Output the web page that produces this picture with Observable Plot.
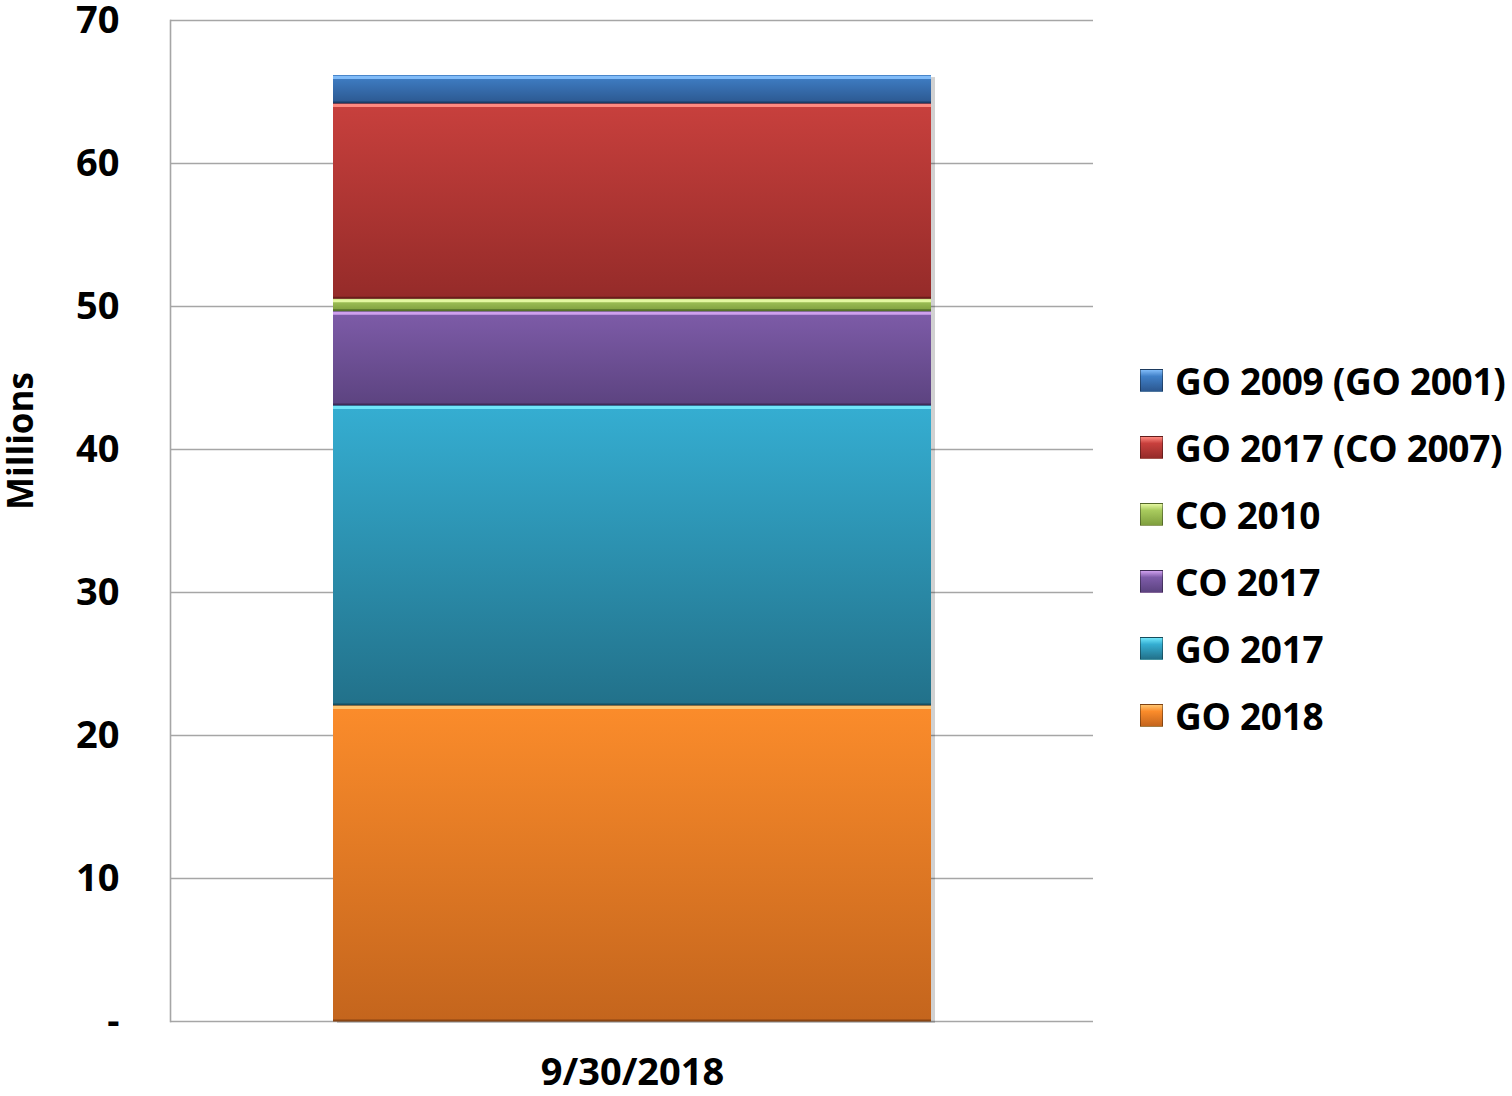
<!DOCTYPE html>
<html><head><meta charset="utf-8">
<script src="https://cdn.jsdelivr.net/npm/d3@7"></script>
<script src="https://cdn.jsdelivr.net/npm/@observablehq/plot@0.6"></script>
<style>
body{margin:0;background:#fff;font-family:"Open Sans",Lato,sans-serif;}
#wrap{position:relative;width:1512px;height:1096px;}
#legend{position:absolute;left:1140px;top:347px;}
.row{height:67px;display:flex;align-items:center;font-weight:bold;font-size:37px;letter-spacing:-0.3px;color:#000;white-space:nowrap;}
.sw{width:21px;height:21px;margin-right:12px;border:1px solid rgba(0,0,0,0.35);box-sizing:content-box;}
</style></head><body><div id="wrap"><div id="legend"></div></div>
<script>
const date = "9/30/2018";
const series = ["GO 2018","GO 2017","CO 2017","CO 2010","GO 2017 (CO 2007)","GO 2009 (GO 2001)"];
const values = [22.1, 20.98, 6.59, 0.87, 13.66, 1.95];
const topColors = ["#fb8c2b","#35aed2","#7e5ca9","#a9cb5e","#c8403d","#4080c8"];
const bottomColors = ["#c4651d","#22718a","#5c4380","#7f9f3e","#952b29","#2c5890"];
const lightEdge = ["#ffc570","#70e6fa","#cfa0ee","#e4f7a0","#ff8a80","#80bbf8"];
const darkEdge = ["#8a4512","#174f60","#3e2c58","#55702a","#6a1d1b","#1c3d66"];
const yTicks = [0,10,20,30,40,50,60,70];
const yTickLabels = ["-","10","20","30","40","50","60","70"];
const yTitle = ["Millions"];

const data = series.map((s,i)=>({date, series:s, value:values[i], i}));
let acc = 0;
const edges = data.map(d=>{const b=acc; acc+=d.value; return {date, bottom:b, top:acc, i:d.i};});

const chart = Plot.plot({
  width:1512, height:1096,
  marginLeft:170, marginRight:419, marginTop:20, marginBottom:75,
  style:{fontFamily:"'Open Sans', Lato, sans-serif", fontSize:"38px", fontWeight:"bold", color:"#000", background:"#fff"},
  x:{domain:[date], paddingInner:0, paddingOuter:0.271},
  y:{domain:[0,70]},
  color:{type:"identity"},
  marks:[
    Plot.ruleY(yTicks, {stroke:"#a6a6a6", strokeWidth:1.6}),
    Plot.frame({anchor:"left", stroke:"#a6a6a6", strokeWidth:1.6}),
    Plot.barY(data, {x:"date", y:"value", fill:"#000", fillOpacity:0.18, dx:4, dy:2}),
    Plot.barY(data, {x:"date", y:"value", fill:d=>`url(#grad${d.i})`}),
    Plot.tickY(edges, {x:"date", y:"top", stroke:d=>lightEdge[d.i], strokeWidth:3, dy:2}),
    Plot.tickY(edges, {x:"date", y:"bottom", stroke:d=>darkEdge[d.i], strokeWidth:2, dy:-1}),
    Plot.axisY(yTicks, {tickSize:0, tickPadding:51, tickFormat:(d,k)=>yTickLabels[k], label:null, fill:"#000"}),
    Plot.text(yTitle, {frameAnchor:"left", textAnchor:"middle", rotate:-90, dx:-149, dy:-80, fill:"#000", fontSize:35, fontWeight:"bold"}),
    Plot.axisX({tickSize:0, tickPadding:37, label:null, fill:"#000"})
  ]
});
const ns = "http://www.w3.org/2000/svg";
const defs = document.createElementNS(ns,"defs");
series.forEach((s,i)=>{
  const g = document.createElementNS(ns,"linearGradient");
  g.setAttribute("id","grad"+i); g.setAttribute("x1","0"); g.setAttribute("y1","0"); g.setAttribute("x2","0"); g.setAttribute("y2","1");
  [[0,topColors[i]],[1,bottomColors[i]]].forEach(([o,c])=>{
    const st=document.createElementNS(ns,"stop"); st.setAttribute("offset",o); st.setAttribute("stop-color",c); g.appendChild(st);
  });
  defs.appendChild(g);
});
chart.insertBefore(defs, chart.firstChild);
document.getElementById("wrap").prepend(chart);

const legend = document.getElementById("legend");
series.map((s,i)=>i).reverse().forEach(i=>{
  const row=document.createElement("div"); row.className="row";
  const sw=document.createElement("div"); sw.className="sw";
  sw.style.background=`linear-gradient(${lightEdge[i]}, ${topColors[i]} 30%, ${bottomColors[i]})`;
  const t=document.createElement("span"); t.textContent=series[i];
  row.appendChild(sw); row.appendChild(t); legend.appendChild(row);
});
</script></body></html>
